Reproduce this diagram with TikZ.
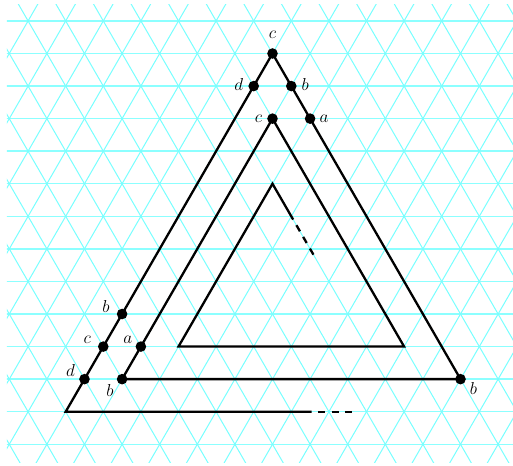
\documentclass[tikz,border=0pt]{standalone}
\definecolor{gridc}{RGB}{120,255,255}
\definecolor{gridh}{RGB}{140,255,255}
\begin{document}
\begin{tikzpicture}[x=37.6pt,y=37.6pt,
  gridline/.style={gridc,line width=1pt},
  gridhline/.style={gridh,line width=1.4pt},
  spiral/.style={black,line width=2.3pt,line join=miter},
  dashpart/.style={black,line width=2.3pt,dash pattern=on 7pt off 6.5pt,dash phase=7pt},
  dot/.style={circle,fill=black,inner sep=0pt,minimum size=10.6pt},
  lbl/.style={font=\fontsize{18}{21}\selectfont,inner sep=0pt}]
\useasboundingbox (-7.247pt*37.6,53.5pt) rectangle (6.396pt*37.6,-411.5pt);
\fill[white] (-7.247pt*37.6,53.5pt) rectangle (6.396pt*37.6,-411.5pt);
\begin{scope}
\clip (-7.061,1.311) rectangle (6.396,-10.87);
\foreach \r in {-1,...,12} {
  \draw[gridhline] (-8,-0.8660254*\r) -- (7,-0.8660254*\r);
}
\foreach \k in {-14,...,14} {
  \draw[gridline] (\k-1,1.7320508) -- (\k+7,-12.124356);
  \draw[gridline] (\k+1,1.7320508) -- (\k-7,-12.124356);
}
\end{scope}
% lattice coordinates (x, row r) -> (x, -0.866 r)
\coordinate (cT) at (0,0);
\coordinate (dT) at (-0.5,-0.8660254);
\coordinate (bT) at (0.5,-0.8660254);
\coordinate (aR) at (1,-1.7320508);
\coordinate (cI) at (0,-1.7320508);
\coordinate (bL) at (-4,-6.9282032);
\coordinate (cL) at (-4.5,-7.7942286);
\coordinate (dL) at (-5,-8.6602540);
\coordinate (aL) at (-3.5,-7.7942286);
\coordinate (bB) at (-4,-8.6602540);
\coordinate (bR) at (5,-8.6602540);
\coordinate (BL) at (-5.5,-9.5262794);
\coordinate (E1) at (1.04,-9.5262794);
\coordinate (E2) at (2.12,-9.5262794);
\coordinate (I2) at (3.5,-7.7942286);
\coordinate (I3) at (-2.5,-7.7942286);
\coordinate (I4) at (0,-3.4641016);
\coordinate (I5) at (0.55,-4.4167295);
\coordinate (I6) at (1.09,-5.3520370);
\draw[spiral] (E1) -- (BL) -- (cT) -- (bR) -- (bB) -- (cI) -- (I2) -- (I3) -- (I4) -- (I5);
\draw[dashpart] (E1) -- (E2);
\draw[dashpart] (I5) -- (I6);
\foreach \p in {cT,dT,bT,aR,cI,bL,cL,dL,aL,bB,bR} \node[dot] (\p d) at (\p) {};
\node[lbl] (lcT) at ([shift={(0pt,19pt)}]cT) {$c$};
\node[lbl] (ldT) at ([shift={(-15pt,2pt)}]dT) {$d$};
\node[lbl] (lbT) at ([shift={(14pt,2pt)}]bT) {$b$};
\node[lbl] (lcI) at ([shift={(-14pt,0pt)}]cI) {$c$};
\node[lbl] (laR) at ([shift={(14pt,0pt)}]aR) {$a$};
\node[lbl] (lbL) at ([shift={(-16pt,8pt)}]bL) {$b$};
\node[lbl] (lcL) at ([shift={(-16pt,7pt)}]cL) {$c$};
\node[lbl] (laL) at ([shift={(-13pt,7pt)}]aL) {$a$};
\node[lbl] (ldL) at ([shift={(-14pt,9pt)}]dL) {$d$};
\node[lbl] (lbB) at ([shift={(-12pt,-11pt)}]bB) {$b$};
\node[lbl] (lbR) at ([shift={(13pt,-9pt)}]bR) {$b$};
\end{tikzpicture}
\end{document}
